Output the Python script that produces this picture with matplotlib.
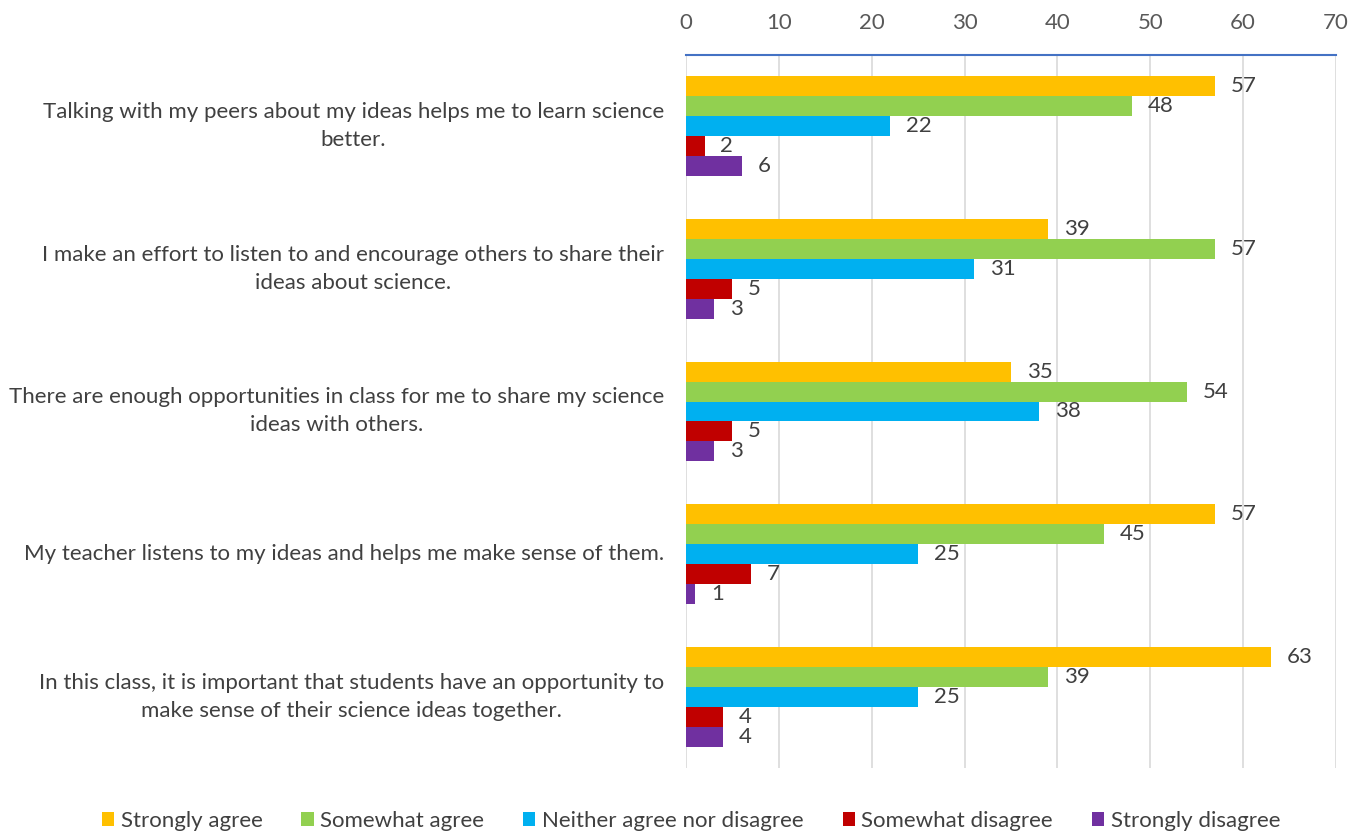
import matplotlib.pyplot as plt
import numpy as np

plt.rcParams['font.family'] = ['Lato', 'DejaVu Sans']

statements = [
    "Talking with my peers about my ideas helps me to learn science\nbetter.",
    "I make an effort to listen to and encourage others to share their\nideas about science.",
    "There are enough opportunities in class for me to share my science\nideas with others.",
    "My teacher listens to my ideas and helps me make sense of them.",
    "In this class, it is important that students have an opportunity to\nmake sense of their science ideas together.",
]
series_names = ["Strongly agree", "Somewhat agree", "Neither agree nor disagree",
                "Somewhat disagree", "Strongly disagree"]
strongly_agree = [57, 39, 35, 57, 63]
somewhat_agree = [48, 57, 54, 45, 39]
neither = [22, 31, 38, 25, 25]
somewhat_disagree = [2, 5, 5, 7, 4]
strongly_disagree = [6, 3, 3, 1, 4]
colors = ["#FFC000", "#92D050", "#00B0F0", "#C00000", "#7030A0"]

series = [strongly_agree, somewhat_agree, neither, somewhat_disagree, strongly_disagree]

fig = plt.figure(figsize=(13.54, 8.32), dpi=100)
ax = fig.add_axes([686/1354, 1-768/832, 650/1354, 713/832])

y = np.arange(len(statements))
h = 0.14
for j, (vals, name, c) in enumerate(zip(series, series_names, colors)):
    pos = y + (j - 2) * h
    ax.barh(pos, vals, height=h, color=c, label=name, zorder=3)
    for yy, v in zip(pos, vals):
        ax.text(v + 1.7, yy, str(v), va='center', ha='left', fontsize=16, color='#404040')

ax.set_xlim(0, 70)
ax.set_ylim(len(statements) - 0.5, -0.5)
ax.set_xticks(np.arange(0, 71, 10))
ax.xaxis.tick_top()
ax.tick_params(axis='x', length=0, pad=16, labelsize=16, labelcolor='#595959')
ax.set_yticks(y)
ax.set_yticklabels(statements, fontsize=16, color='#404040', multialignment='center',
                   linespacing=1.5, va='center')
ax.tick_params(axis='y', length=0, pad=16)
ax.grid(axis='x', color='#D9D9D9', linewidth=1.2, zorder=0)
for s in ['left', 'right', 'bottom']:
    ax.spines[s].set_visible(False)
ax.spines['top'].set_color('#4472C4')
ax.spines['top'].set_linewidth(1.5)

fig.legend(loc='center', bbox_to_anchor=(691/1354, 1-821/832), ncol=5, frameon=False,
           fontsize=16, handlelength=0.55, handleheight=0.55, handletextpad=0.3,
           columnspacing=1.75, labelcolor='#404040')

fig.savefig('out.png', dpi=100)
